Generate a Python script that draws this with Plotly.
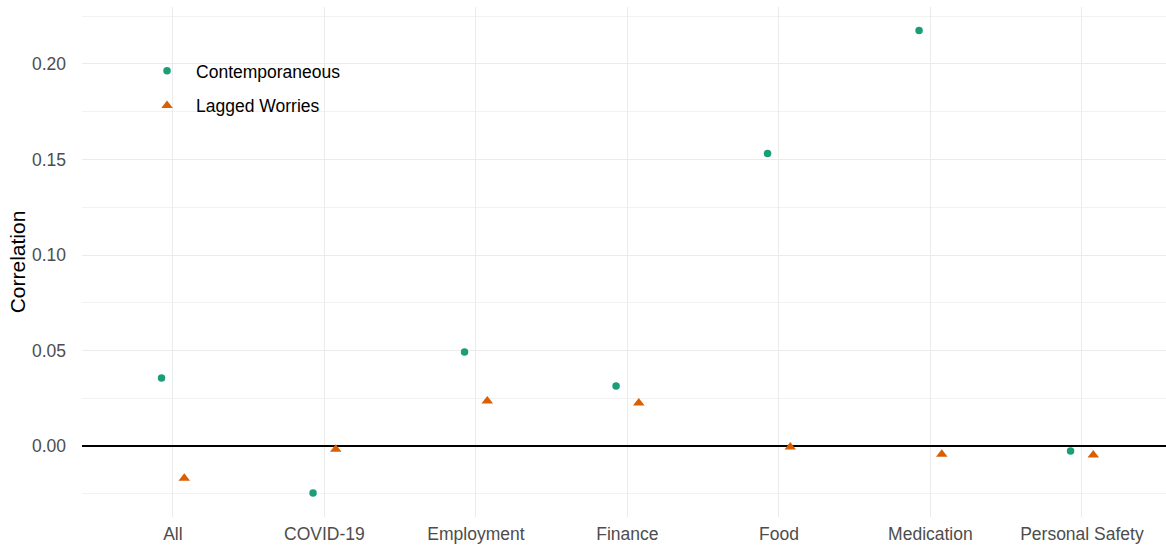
import plotly.graph_objects as go

categories = ["All", "COVID-19", "Employment", "Finance", "Food", "Medication", "Personal Safety"]
contemporaneous = [0.0356, -0.0246, 0.0492, 0.0314, 0.1531, 0.2175, -0.0026]
lagged = [-0.0168, -0.0016, 0.0236, 0.0225, -0.0005, -0.0042, -0.0047]
y_ticks = [0.00, 0.05, 0.10, 0.15, 0.20]

GREEN = "#1b9e77"
ORANGE = "#d95f02"

fig = go.Figure()
fig.add_trace(go.Scatter(
    x=categories, y=contemporaneous, mode="markers", name="Contemporaneous",
    offsetgroup="c", legendgroup="c",
    marker=dict(symbol="circle", size=7.5, color=GREEN),
))
fig.add_trace(go.Scatter(
    x=categories, y=lagged, mode="markers", name="Lagged Worries",
    offsetgroup="l", legendgroup="l",
    marker=dict(symbol="triangle-up", size=10, color=ORANGE),
))

fig.update_layout(
    width=1166, height=548,
    margin=dict(l=82, r=0, t=7, b=31),
    paper_bgcolor="white", plot_bgcolor="white",
    scattermode="group", scattergap=0.7,
    font=dict(family="Liberation Sans, Arial, sans-serif", size=17.5, color="#4d4d4d"),
    showlegend=True,
    legend=dict(
        x=0.0517, y=0.91, xanchor="left", yanchor="top",
        bgcolor="rgba(0,0,0,0)", tracegroupgap=9, itemwidth=48,
        font=dict(size=17.5, color="black"),
    ),
)
fig.update_xaxes(
    type="category", range=[-0.6, 6.555], automargin=False,
    showgrid=True, gridcolor="#ebebeb", gridwidth=1.2,
    showline=False, zeroline=False, ticks="", ticklabelstandoff=4,
    tickfont=dict(size=17.5, color="#4d4d4d"),
)
fig.update_yaxes(
    range=[-0.0371, 0.2298], automargin=False,
    tickvals=y_ticks, tickformat=".2f",
    showgrid=True, gridcolor="#ebebeb", gridwidth=1.2,
    minor=dict(dtick=0.025, tick0=0.025, showgrid=True, gridcolor="#f2f2f2", gridwidth=0.8),
    zeroline=True, zerolinecolor="black", zerolinewidth=1.5,
    showline=False, ticks="", ticklabelstandoff=15,
    tickfont=dict(size=17.5, color="#4d4d4d"),
    title=dict(text="Correlation", font=dict(size=21, color="black"), standoff=0),
)

fig.write_html("out.html", config={"displayModeBar": False},
               post_script="document.body.style.margin='0';")
